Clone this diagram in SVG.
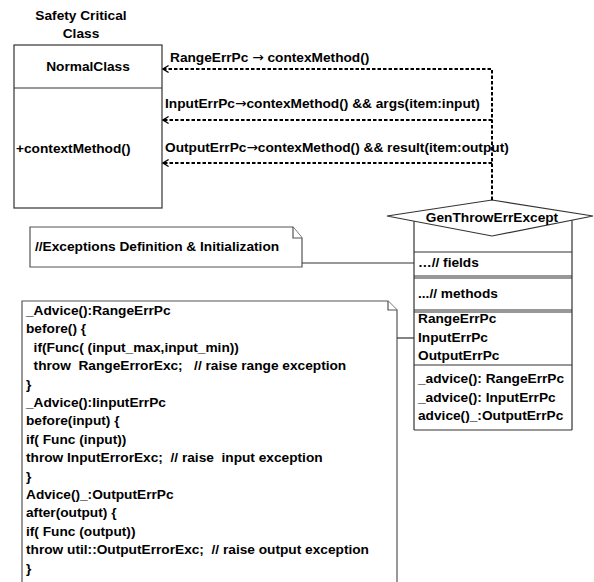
<svg xmlns="http://www.w3.org/2000/svg" width="594" height="582" viewBox="0 0 594 582">
<style>
text{font-family:"Liberation Sans",Arial,sans-serif;font-size:13.7px;font-weight:bold;fill:#000}
.ar{font-family:"DejaVu Sans",sans-serif;font-weight:normal}
.box{fill:#fff;stroke:#333;stroke-width:1.2}
.note{fill:#fff;stroke:#555;stroke-width:1.2}
.ln{fill:none;stroke:#333;stroke-width:1.2}
.dash{fill:none;stroke:#000;stroke-width:2;stroke-dasharray:3.5 2}
.pre{white-space:pre}
</style>
<defs>
<marker id="open" viewBox="0 0 10 10" refX="9" refY="5" markerWidth="7" markerHeight="10" markerUnits="userSpaceOnUse" orient="auto">
<path d="M1,0 L9,5 L1,10" fill="none" stroke="#000" stroke-width="2"/>
</marker>
</defs>
<rect width="594" height="582" fill="#fff"/>

<g id="normal-class">
<text x="81" y="20" text-anchor="middle">Safety Critical</text>
<text x="81" y="38" text-anchor="middle">Class</text>
<rect class="box" x="14" y="45" width="148" height="163"/>
<line class="ln" x1="14" y1="88" x2="162" y2="88"/>
<text x="88" y="71" text-anchor="middle">NormalClass</text>
<text x="16" y="153">+contextMethod()</text>
</g>

<g id="gen-throw-err-except">
<line class="ln" x1="414" y1="216" x2="414" y2="430"/>
<line class="ln" x1="572" y1="216" x2="572" y2="430"/>
<line class="ln" x1="414" y1="252" x2="572" y2="252"/>
<line class="ln" x1="414" y1="276" x2="572" y2="276"/>
<line class="ln" x1="414" y1="278" x2="572" y2="278"/>
<line class="ln" x1="414" y1="310" x2="572" y2="310"/>
<line class="ln" x1="414" y1="312" x2="572" y2="312"/>
<line class="ln" x1="414" y1="365" x2="572" y2="365"/>
<line class="ln" x1="414" y1="430" x2="572" y2="430"/>
<polygon class="box" points="387,216 492,200 593,216 492,236"/>
<text x="492" y="222" text-anchor="middle">GenThrowErrExcept</text>
<text x="418" y="267">…// fields</text>
<text x="418" y="298">...// methods</text>
<text x="418" y="323">RangeErrPc</text>
<text x="418" y="342">InputErrPc</text>
<text x="418" y="360">OutputErrPc</text>
<text x="418" y="383">_advice(): RangeErrPc</text>
<text x="418" y="402">_advice(): InputErrPc</text>
<text x="418" y="420">advice()_:OutputErrPc</text>
</g>

<g id="note-exceptions">
<path class="note" d="M30,227 H293 L302,238 V267 H30 Z"/>
<path class="note" d="M293,227 V238 H302"/>
<text x="35" y="251">//Exceptions Definition &amp; Initialization</text>
</g>

<g id="note-advice">
<path class="note" d="M22,301 H388 L397,310 V590 H22 Z"/>
<path class="note" d="M388,301 V310 H397"/>
<text class="pre" x="26" y="315">_Advice():RangeErrPc</text>
<text class="pre" x="26" y="333.4">before() {</text>
<text class="pre" x="26" y="351.8">  if(Func( (input_max,input_min))</text>
<text class="pre" x="26" y="370.2">  throw  RangeErrorExc;   // raise range exception</text>
<text class="pre" x="26" y="388.6">}</text>
<text class="pre" x="26" y="407">_Advice():IinputErrPc</text>
<text class="pre" x="26" y="425.4">before(input) {</text>
<text class="pre" x="26" y="443.8">if( Func (input))</text>
<text class="pre" x="26" y="462.2">throw InputErrorExc;  // raise  input exception</text>
<text class="pre" x="26" y="480.6">}</text>
<text class="pre" x="26" y="499">Advice()_:OutputErrPc</text>
<text class="pre" x="26" y="517.4">after(output) {</text>
<text class="pre" x="26" y="535.8">if( Func (output))</text>
<text class="pre" x="26" y="554.2">throw util::OutputErrorExc;  // raise output exception</text>
<text class="pre" x="26" y="572.6">}</text>
</g>

<g id="connectors">
<line class="ln" x1="302" y1="263" x2="414" y2="263"/>
<line class="ln" x1="397" y1="338" x2="414" y2="338"/>
<path class="dash" d="M492,200 V69 H163" marker-end="url(#open)"/>
<path class="dash" d="M492,120 H163" marker-end="url(#open)"/>
<path class="dash" d="M492,163 H163" marker-end="url(#open)"/>
<text x="170" y="62">RangeErrPc <tspan class="ar">→</tspan> contexMethod()</text>
<text x="165" y="108">InputErrPc<tspan class="ar">→</tspan>contexMethod() &amp;&amp; args(item:input)</text>
<text x="165" y="152">OutputErrPc<tspan class="ar">→</tspan>contexMethod() &amp;&amp; result(item:output)</text>
</g>
</svg>
